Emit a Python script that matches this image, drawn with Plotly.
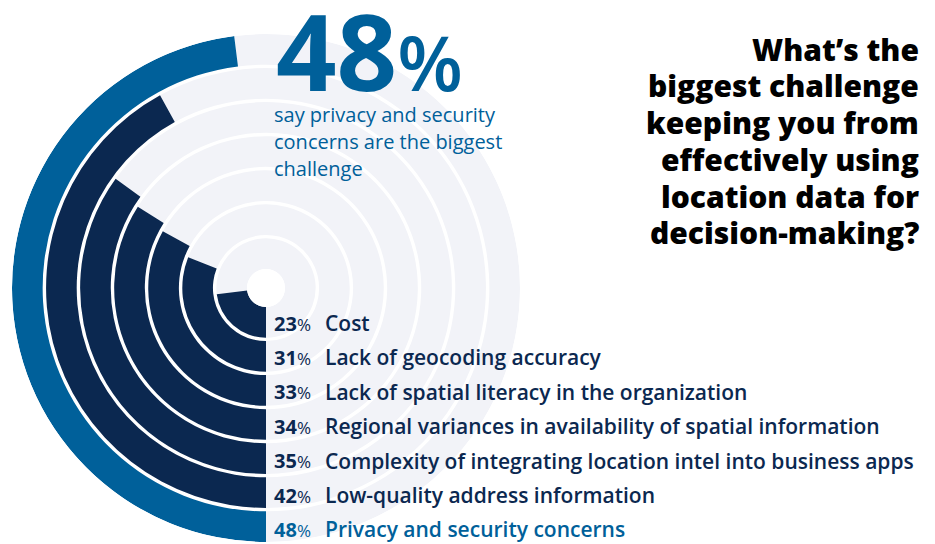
import plotly.graph_objects as go

# data
labels = [
    "Cost",
    "Lack of geocoding accuracy",
    "Lack of spatial literacy in the organization",
    "Regional variances in availability of spatial information",
    "Complexity of integrating location intel into business apps",
    "Low-quality address information",
    "Privacy and security concerns",
]
values = [23, 31, 33, 34, 35, 42, 48]
highlight = "Privacy and security concerns"
question = ["What’s the", "biggest challenge", "keeping you from",
            "effectively using", "location data for", "decision-making?"]
subtitle = ["say privacy and security", "concerns are the biggest", "challenge"]

NAVY = "#0b2850"
BLUE = "#00609a"
TRACK = "#f2f3f8"
FONT = "Open Sans"

W, H = 935, 544
CX, CY, R = 266, 288, 254   # circle centre / radius in px
HOLE = 19 / R

ring = list(range(len(values)))
thick = 0.9
colors = [BLUE if l == highlight else NAVY for l in labels]

fig = go.Figure()

# grey remainder of each track (value -> 100%)
fig.add_trace(go.Barpolar(
    r=[thick] * len(values), base=ring,
    theta=[(v + (100 - v) / 2) * 3.6 for v in values],
    width=[(100 - v) * 3.6 for v in values],
    marker=dict(color=TRACK, line=dict(width=0)),
    hoverinfo="skip", showlegend=False))

# value bars
fig.add_trace(go.Barpolar(
    r=[thick] * len(values), base=ring,
    theta=[v * 3.6 / 2 for v in values],
    width=[v * 3.6 for v in values],
    marker=dict(color=colors, line=dict(width=0)),
    text=labels, hovertemplate="%{text}<extra></extra>",
    showlegend=False))

fig.update_layout(
    width=W, height=H, margin=dict(l=0, r=0, t=0, b=0),
    paper_bgcolor="white", plot_bgcolor="white",
    font=dict(family=FONT),
    polar=dict(
        domain=dict(x=[(CX - R) / W, (CX + R) / W],
                    y=[1 - (CY + R) / H, 1 - (CY - R) / H]),
        hole=HOLE, bgcolor="white",
        radialaxis=dict(visible=False, range=[0, len(values) - 1 + thick]),
        angularaxis=dict(visible=False, rotation=270, direction="clockwise",
                         showgrid=False, showline=False, ticks=""),
    ),
)


def txt(x, y, s, size, color, weight=400, anchor="left"):
    return dict(x=x / W, y=1 - y / H, xref="paper", yref="paper",
                xanchor=anchor, yanchor="middle", showarrow=False, text=s,
                font=dict(size=size, color=color, family=FONT, weight=weight))


ann = []
# percent + label rows next to the bar ends
pitch = 34.4
for i, (l, v, c) in enumerate(zip(labels, values, colors)):
    y = 323 + pitch * i
    ann.append(txt(272, y, f"<b>{v}</b><span style='font-size:17px;font-weight:500'>%</span>",
                   20, c))
    ann.append(txt(323, y, l, 21, c, 600))

# headline number
top = values[labels.index(highlight)]
ann.append(txt(274, 50, f"<b>{top}</b><span style='font-size:76px;font-weight:600'>%</span>",
               106, BLUE, 800))
for j, s in enumerate(subtitle):
    ann.append(txt(272, 114 + 27 * j, s, 20, BLUE, 500))

# question, right aligned
for j, s in enumerate(question):
    ann.append(txt(921, 49 + 36.8 * j, s, 30, "black", 800, anchor="right"))

fig.update_layout(annotations=ann)
fig.write_html("out.html", config={"displayModeBar": False},
               post_script=["document.body.style.margin='0';"])
